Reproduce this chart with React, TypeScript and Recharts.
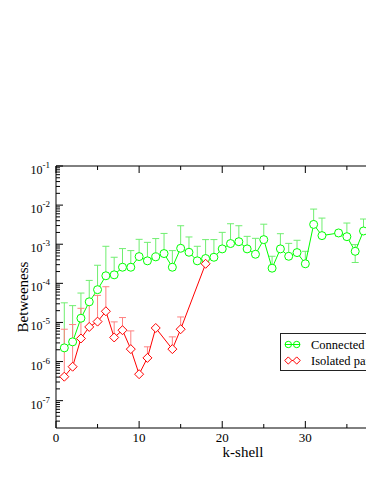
import React from 'react';
import { ComposedChart, Line, XAxis, YAxis, ErrorBar, Legend } from 'recharts';

// ---- data ----
const kConnected = [1, 2, 3, 4, 5, 6, 7, 8, 9, 10, 11, 12, 13, 14, 15, 16, 17, 18, 19, 20, 21, 22, 23, 24, 25, 26, 27, 28, 29, 30, 31, 32, 34, 35, 36, 37, 38, 39];
const betConnected = [2.24e-6, 3.19e-6, 1.28e-5, 3.37e-5, 6.88e-5, 1.56e-4, 1.65e-4, 2.58e-4, 2.58e-4, 4.83e-4, 3.76e-4, 4.75e-4, 5.77e-4, 2.58e-4, 7.87e-4, 6.23e-4, 3.76e-4, 4.31e-4, 4.64e-4, 7.59e-4, 1.04e-3, 1.16e-3, 7.59e-4, 5.54e-4, 1.31e-3, 2.44e-4, 7.59e-4, 4.92e-4, 6.11e-4, 3.16e-4, 3.21e-3, 1.66e-3, 1.94e-3, 1.56e-3, 6.59e-4, 2.18e-3, 3.29e-3, 4.0e-3];
const errUpConnected = [2.95e-5, 2.37e-5, 4.36e-5, 8.5e-5, 2.21e-4, 7.29e-4, 2.99e-4, 5.15e-4, 4.29e-4, 8.5e-4, 7.4e-4, 9.2e-4, 1.31e-3, 4.29e-4, 2.18e-3, 9.1e-4, 5.09e-4, 8.8e-4, 8.5e-4, 1.25e-3, 2.3e-3, 1.81e-3, 8.3e-4, 8.6e-4, 1.94e-3, 2.48e-4, 1.1e-3, 5.6e-4, 6.5e-4, 3.43e-4, 4.7e-3, 3.0e-3, 3.2e-4, 1.92e-3, 3.18e-4, 2.23e-3, 4.6e-3, 3.0e-3];
const errDownConnected = [0, 0, 0, 0, 0, 0, 0, 0, 0, 0, 0, 0, 0, 0, 0, 0, 0, 0, 0, 0, 0, 0, 0, 0, 0, 0, 0, 0, 0, 0, 0, 0, 3.2e-4, 0, 3.18e-4, 0, 0, 0];

const kIsolated = [1, 2, 3, 4, 5, 6, 7, 8, 9, 10, 11, 12, 14, 15, 18];
const betIsolated = [4.1e-7, 7.38e-7, 3.89e-6, 7.67e-6, 1.05e-5, 1.93e-5, 4.13e-6, 6.34e-6, 2.08e-6, 4.75e-7, 1.24e-6, 7.21e-6, 2.08e-6, 6.71e-6, 3.16e-4];
const errUpIsolated = [6.3e-6, 8.1e-6, 1.91e-5, 2.9e-5, 3.87e-5, 6.26e-5, 6.2e-6, 7.0e-6, 4.0e-6, 0, 1.14e-6, 0, 2.2e-6, 7.1e-6, 0];

const seriesNames = ['Connected', 'Isolated parts'];
const xMajorTicks = [0, 10, 20, 30, 40];
const xMinorTicks = [5, 15, 25, 35, 45];
const xTickLabels = [0, 10, 20, 30];
const yMajorExponents = [-7, -6, -5, -4, -3, -2, -1];
const yMinorMantissas = [2, 3, 4, 5, 6, 7, 8, 9];
const yMinorExponents = [-8, -7, -6, -5, -4, -3, -2];
const yDomain = [2e-8, 0.1];

const GREEN = '#00ff00';
const GREEN_ERR = '#70ee70';
const RED = '#ff0000';
const RED_ERR = '#ff8080';

const connectedData = kConnected.map((k, i) => ({ k, b: betConnected[i], err: [errDownConnected[i], errUpConnected[i]] }));
const isolatedData = kIsolated.map((k, i) => ({ k, b: betIsolated[i], err: [0, errUpIsolated[i]] }));

const xTicks = [...xMajorTicks, ...xMinorTicks].sort((a, b) => a - b);
const yMajorTicks = yMajorExponents.map((e) => Number(Math.pow(10, e).toPrecision(3)));
const yMinorTicks: number[] = [];
yMinorExponents.forEach((e) => yMinorMantissas.forEach((m) => {
  const v = Number((m * Math.pow(10, e)).toPrecision(3));
  if (v > yDomain[0] && v < yDomain[1]) yMinorTicks.push(v);
}));
const yTicks = [...yMajorTicks, ...yMinorTicks].sort((a, b) => a - b);

const isYMajor = (v: number) => {
  const lg = Math.log10(v);
  return Math.abs(lg - Math.round(lg)) < 1e-6;
};

function BottomTick(props: any) {
  const { x, y, payload } = props;
  const major = xMajorTicks.includes(payload.value);
  return (
    <g>
      <line x1={x} y1={y} x2={x} y2={y - (major ? 7 : 4)} stroke="#000" />
      {xTickLabels.includes(payload.value) && (
        <text x={x} y={y + 13.5} textAnchor="middle" fontSize={13} fill="#000">{payload.value}</text>
      )}
    </g>
  );
}

function TopTick(props: any) {
  const { x, y, payload } = props;
  const major = xMajorTicks.includes(payload.value);
  return <line x1={x} y1={y} x2={x} y2={y + (major ? 7 : 4)} stroke="#000" />;
}

function LeftTick(props: any) {
  const { x, y, payload } = props;
  const v = payload.value;
  const major = isYMajor(v);
  const e = Math.round(Math.log10(v));
  return (
    <g>
      <line x1={x} y1={y} x2={x + (major ? 7 : 4)} y2={y} stroke="#000" />
      {major && (
        <text x={x - 6} y={y + 8} textAnchor="end" fontSize={12} fill="#000">
          10<tspan dy={-6} fontSize={9}>{String(e)}</tspan>
        </text>
      )}
    </g>
  );
}

const CircleDot = (props: any) => {
  const { cx, cy, index } = props;
  if (cx == null || cy == null) return <g key={`cg${index}`} />;
  return <circle key={`c${index}`} cx={cx} cy={cy} r={4} fill="#fff" stroke={GREEN} strokeWidth={1} />;
};

const DiamondDot = (props: any) => {
  const { cx, cy, index } = props;
  if (cx == null || cy == null) return <g key={`dg${index}`} />;
  const r = 4.5;
  return (
    <polygon
      key={`d${index}`}
      points={`${cx},${cy - r} ${cx + r},${cy} ${cx},${cy + r} ${cx - r},${cy}`}
      fill="#fff"
      stroke={RED}
      strokeWidth={1}
    />
  );
};

const LegendBox = () => {
  const rows = [
    { name: seriesNames[0], color: GREEN, kind: 'circle' },
    { name: seriesNames[1], color: RED, kind: 'diamond' },
  ];
  return (
    <div style={{ border: '1px solid #222', background: '#fff', width: 110, height: 36 }}>
      <svg width={110} height={36} style={{ display: 'block' }}>
        {rows.map((r, i) => {
          const cy = 10.5 + i * 16;
          return (
            <g key={r.name}>
              <line x1={4} y1={cy} x2={19} y2={cy} stroke={r.color} />
              {[7.3, 15.7].map((cx) =>
                r.kind === 'circle' ? (
                  <circle key={cx} cx={cx} cy={cy} r={3.2} fill="none" stroke={r.color} />
                ) : (
                  <polygon key={cx} points={`${cx},${cy - 3.6} ${cx + 3.6},${cy} ${cx},${cy + 3.6} ${cx - 3.6},${cy}`} fill="#fff" stroke={r.color} />
                )
              )}
              <text x={30} y={cy + 4.5} fontSize={12.5} fill="#000">{r.name}</text>
            </g>
          );
        })}
      </svg>
    </div>
  );
};

export default function App() {
  return (
    <div style={{ width: 366, height: 469, overflow: 'hidden', fontFamily: '"Liberation Serif", "Times New Roman", serif' }}>
      <ComposedChart width={440} height={465} margin={{ top: 150, right: 18, bottom: 0, left: 0 }}>
        <XAxis
          xAxisId="top"
          orientation="top"
          type="number"
          dataKey="k"
          domain={[0, 45]}
          ticks={xTicks}
          interval={0}
          height={8}
          tickSize={0}
          tickMargin={0}
          tickLine={false}
          tick={TopTick}
          axisLine={{ stroke: '#000' }}
          allowDataOverflow
        />
        <XAxis
          xAxisId="bottom"
          orientation="bottom"
          type="number"
          dataKey="k"
          domain={[0, 45]}
          ticks={xTicks}
          interval={0}
          height={45}
          tickSize={0}
          tickMargin={0}
          tickLine={false}
          tick={BottomTick}
          axisLine={{ stroke: '#000' }}
          allowDataOverflow
          label={{ value: 'k-shell', position: 'insideBottom', offset: 16, style: { fontSize: 15, fill: '#000' } }}
        />
        <YAxis
          yAxisId="y"
          type="number"
          scale="log"
          domain={yDomain}
          ticks={yTicks}
          interval={0}
          width={48}
          tickSize={0}
          tickMargin={0}
          tickLine={false}
          tick={LeftTick}
          axisLine={{ stroke: '#000' }}
          allowDataOverflow
          label={{ value: 'Betweeness', angle: -90, position: 'insideLeft', offset: 15, style: { textAnchor: 'middle', fontSize: 15, fill: '#000' } }}
        />
        <Line
          xAxisId="bottom"
          yAxisId="y"
          data={connectedData}
          dataKey="b"
          name={seriesNames[0]}
          stroke={GREEN}
          strokeWidth={1}
          dot={CircleDot}
          activeDot={false}
          isAnimationActive={false}
        >
          <ErrorBar dataKey="err" direction="y" width={3.5} stroke={GREEN_ERR} strokeWidth={1} isAnimationActive={false} />
        </Line>
        <Line
          xAxisId="bottom"
          yAxisId="y"
          data={isolatedData}
          dataKey="b"
          name={seriesNames[1]}
          stroke={RED}
          strokeWidth={1}
          dot={DiamondDot}
          activeDot={false}
          isAnimationActive={false}
        >
          <ErrorBar dataKey="err" direction="y" width={3.5} stroke={RED_ERR} strokeWidth={1} isAnimationActive={false} />
        </Line>
        <Legend
          layout="horizontal"
          verticalAlign="middle"
          align="center"
          content={() => <LegendBox />}
          wrapperStyle={{ position: 'absolute', left: 272, top: 325, width: 'auto', height: 'auto' }}
        />
      </ComposedChart>
    </div>
  );
}
